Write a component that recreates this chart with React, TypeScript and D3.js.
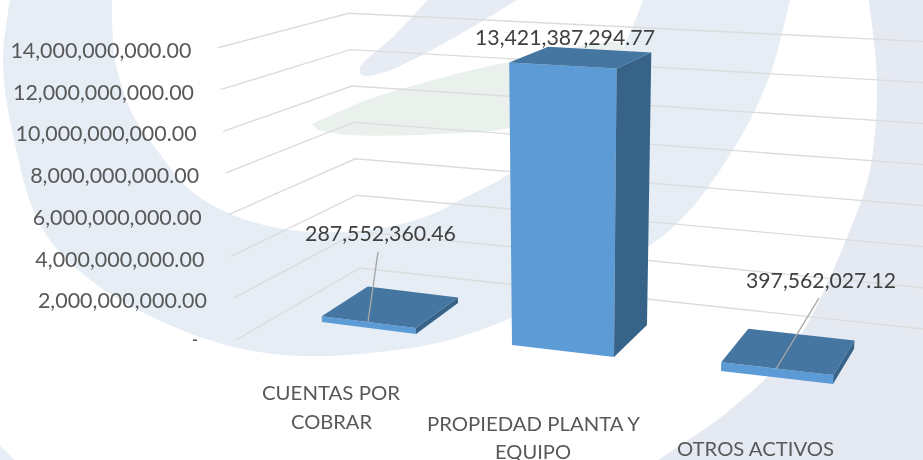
import React from "react";
import * as d3 from "d3";

// ---- data ----
const categories = ["CUENTAS POR COBRAR", "PROPIEDAD PLANTA Y EQUIPO", "OTROS ACTIVOS"];
const values = [287552360.46, 13421387294.77, 397562027.12];
const valueLabels = ["287,552,360.46", "13,421,387,294.77", "397,562,027.12"];
const tickValues = [0, 2e9, 4e9, 6e9, 8e9, 10e9, 12e9, 14e9];
const tickLabels = ["-", "2,000,000,000.00", "4,000,000,000.00", "6,000,000,000.00", "8,000,000,000.00", "10,000,000,000.00", "12,000,000,000.00", "14,000,000,000.00"];

// ---- layout (3-D projection of the floor) ----
const W = 923, H = 460;
const FONT = "Lato, 'Open Sans', sans-serif";
const idx = [0, 1, 2];
const s = (r: number[]) => d3.scaleLinear().domain(idx).range(r);
const corners = {
  fl: { x: s([322, 512, 721]), y: s([322, 345, 371]) },
  fr: { x: s([416, 614, 833]), y: s([334, 357, 384]) },
  br: { x: s([458, 647, 854]), y: s([303, 325, 349]) },
  bl: { x: s([368, 549, 748]), y: s([292, 314, 337]) },
};
const unit = d3.scaleLinear().domain([268, 357]).range([18.2e-9, 21.5e-9]);
const spread = d3.scaleLinear().domain([0, 14e9]).range([0, 0.055]);
const VX = 565;
function project(x: number, y: number, v: number): [number, number] {
  return [x + (x - VX) * spread(v), y - unit(y) * v];
}
const wall = { fl: [236, 340], bl: [360, 268], r: [923, 329] };

const P = (pts: [number, number][]) => pts.map((p) => p.map((n) => n.toFixed(1)).join(",")).join(" ");

// ---- watermark shapes ----
type Pt = [number, number];
const ringOuter: Pt[] = [[11, -5], [3, 60], [12, 130], [43, 230], [100, 287], [200, 337], [283, 355], [380, 352], [460, 337], [560, 295], [670, 230], [733, 150], [770, 75], [791, -5]];
const ringInner: Pt[] = [[645, -5], [600, 90], [510, 173], [460, 200], [430, 215], [370, 230], [290, 230], [233, 215], [190, 190], [157, 150], [133, 115], [115, 60], [112, -5]];
const rightOuter: Pt[] = [[868, -5], [877, 80], [870, 170], [850, 230], [793, 347], [730, 410], [650, 465]];
const cornerBlob: Pt[] = [[-5, 441], [20, 465]];
const spindle: Pt[] = [[432, -5], [395, 35], [360, 68], [362, 75], [385, 72], [450, 40], [525, -5]];
const leaf: Pt[] = [[312, 124], [367, 100], [460, 73], [510, 62], [620, 44], [625, 60], [560, 110], [510, 128], [440, 134], [350, 135], [318, 130]];

const curve = (pts: Pt[]) => d3.line().curve(d3.curveCatmullRom.alpha(0.5))(pts) as string;

function Txt(props: { x: number; y: number; w: number; anchor?: string; fill: string; size?: number; children: string }) {
  const { x, y, w, anchor = "start", fill, size = 21, children } = props;
  const left = anchor === "end" ? x - w : anchor === "middle" ? x - w / 2 : x;
  return (
    <text x={left} y={y} fontSize={size} fontFamily={FONT} fill={fill} textLength={w} lengthAdjust="spacingAndGlyphs">
      {children}
    </text>
  );
}

const tickWidths = [6, 169, 169, 169, 169, 181, 181, 181];

export default function App() {
  return (
    <svg width={W} height={H} viewBox={`0 0 ${W} ${H}`} style={{ position: "absolute", left: 0, top: 0, display: "block", background: "#fff" }}>
      <defs>
        <filter id="soft" x="-2%" y="-2%" width="104%" height="104%">
          <feGaussianBlur stdDeviation="0.4" />
        </filter>
      </defs>
      <g filter="url(#soft)">
        {/* watermark */}
        <path d={curve(ringOuter) + " L" + ringInner.map((p) => p.join(",")).join(" L") + " Z"} fill="#E6EDF5" />
        <path d={curve(ringInner) + " Z"} fill="#fff" />
        <path d={curve(rightOuter) + ` L${W + 5},465 L${W + 5},-5 Z`} fill="#E5E9F2" />
        <path d={`M${cornerBlob[0].join(",")} L${cornerBlob[1].join(",")} L-5,465 Z`} fill="#E6EDF5" />
        <path d={curve(spindle) + " Z"} fill="#E6EBF4" />
        <path d={curve(leaf) + " Z"} fill="#EAF1EC" />

        {/* gridlines */}
        {tickValues.map((t) => {
          const pts = [project(wall.fl[0], wall.fl[1], t), project(wall.bl[0], wall.bl[1], t), project(wall.r[0], wall.r[1], t)];
          return <polyline key={t} points={P(pts)} fill="none" stroke="#DCDCDC" strokeWidth={1.4} />;
        })}

        {/* tick labels */}
        {tickValues.map((t, i) => {
          const [gx, gy] = project(wall.fl[0], wall.fl[1], t);
          const x = i === 0 ? gx - 38 : gx - 26.5;
          return (
            <Txt key={t} x={x} y={gy + (i === 0 ? 7 : 10)} w={tickWidths[i]} anchor="end" fill="#595959">
              {tickLabels[i]}
            </Txt>
          );
        })}

        {/* bars */}
        {values.map((v, i) => {
          const c = (k: keyof typeof corners, val: number) => project(corners[k].x(i), corners[k].y(i), val);
          return (
            <g key={categories[i]}>
              <polygon points={P([c("fl", 0), c("fr", 0), c("fr", v), c("fl", v)])} fill="#5B9BD5" />
              <polygon points={P([c("fr", 0), c("br", 0), c("br", v), c("fr", v)])} fill="#376489" />
              <polygon points={P([c("fl", v), c("fr", v), c("br", v), c("bl", v)])} fill="#4475A1" />
            </g>
          );
        })}

        {/* leader lines */}
        <line x1={378} y1={252} x2={368} y2={322} stroke="#A6A6A6" strokeWidth={1.4} />
        <line x1={819} y1={298} x2={776} y2={369} stroke="#A6A6A6" strokeWidth={1.4} />

        {/* value labels */}
        <Txt x={305} y={241} w={151} fill="#404040">{valueLabels[0]}</Txt>
        <Txt x={475} y={45} w={180} fill="#404040">{valueLabels[1]}</Txt>
        <Txt x={746} y={288} w={150} fill="#404040">{valueLabels[2]}</Txt>

        {/* category labels */}
        <Txt x={262} y={400} w={138} size={20} fill="#595959">CUENTAS POR</Txt>
        <Txt x={291} y={429} w={81} size={20} fill="#595959">COBRAR</Txt>
        <Txt x={427} y={431} w={213} size={20} fill="#595959">PROPIEDAD PLANTA Y</Txt>
        <Txt x={495} y={459} w={76} size={20} fill="#595959">EQUIPO</Txt>
        <Txt x={677} y={456} w={157} size={20} fill="#595959">OTROS ACTIVOS</Txt>
      </g>
    </svg>
  );
}
